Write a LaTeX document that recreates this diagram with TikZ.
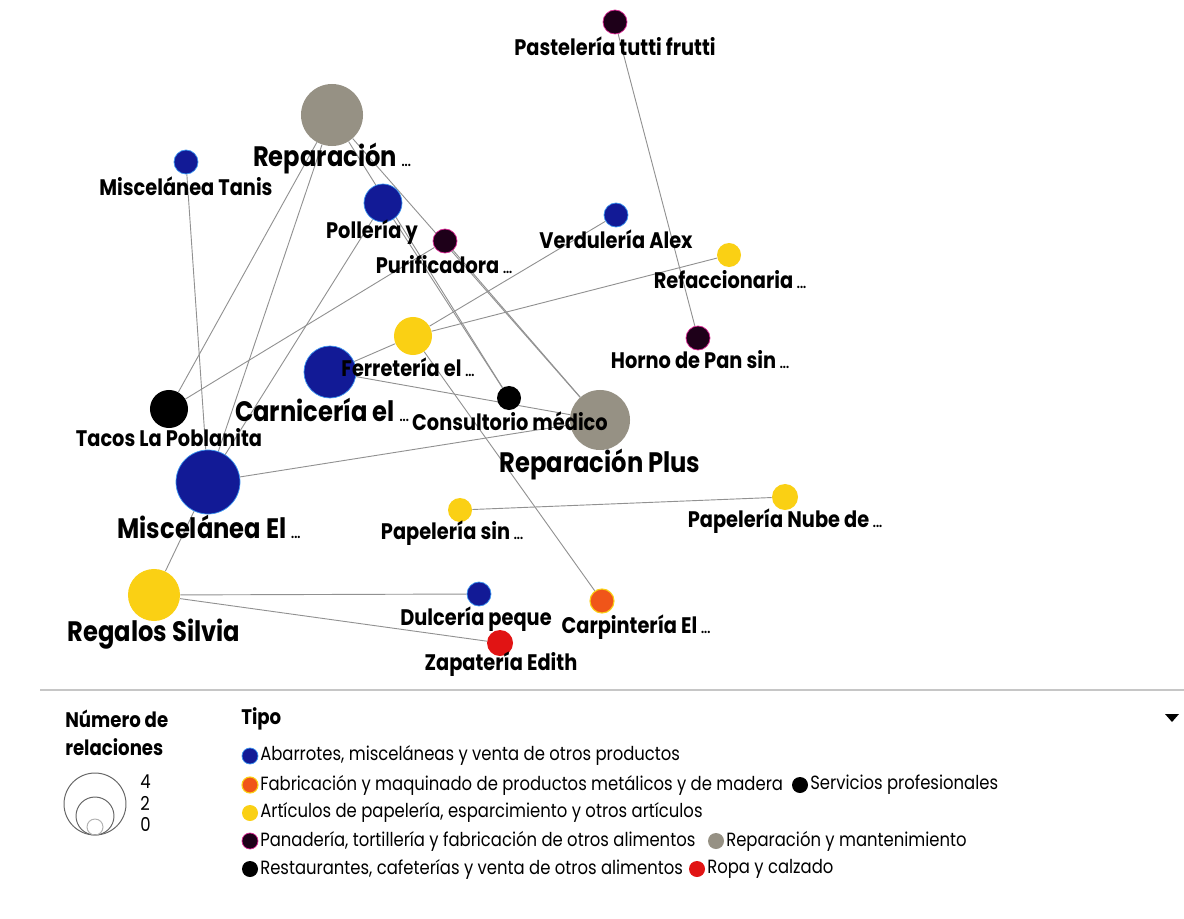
\documentclass[tikz,border=0pt]{standalone}
\usepackage{fontspec}
\setmainfont{Poppins}[FakeStretch=0.86]
\usetikzlibrary{backgrounds}
\definecolor{abablue}{RGB}{18,26,150}
\definecolor{abarim}{RGB}{60,150,240}
\definecolor{repgray}{RGB}{150,145,132}
\definecolor{papyellow}{RGB}{250,208,20}
\definecolor{panpurple}{RGB}{30,0,25}
\definecolor{panrim}{RGB}{220,40,150}
\definecolor{fabred}{RGB}{240,85,25}
\definecolor{ropared}{RGB}{225,20,20}
\definecolor{lnkgray}{RGB}{145,145,145}
\newcommand{\lbldots}{\,{\fontsize{9}{9}\selectfont...}}

\begin{document}
\begin{tikzpicture}[x=0.025cm, y=-0.025cm,
    bub/.style={circle, inner sep=0pt, minimum size=#1*0.05cm},
    aba/.style={bub=#1, fill=abablue, draw=abarim, line width=0.5pt},
    rep/.style={bub=#1, fill=repgray},
    pap/.style={bub=#1, fill=papyellow},
    pan/.style={bub=#1, fill=panpurple, draw=panrim, line width=0.5pt},
    res/.style={bub=#1, fill=black},
    fab/.style={bub=#1, fill=fabred, draw=papyellow, line width=0.8pt},
    rop/.style={bub=#1, fill=ropared},
    lbls/.style={font=\fontsize{16}{18}\selectfont\bfseries, inner sep=0pt},
    lblb/.style={font=\fontsize{20}{22}\selectfont\bfseries, inner sep=0pt},
    lnk/.style={draw=lnkgray, line width=0.65pt},
    leghd/.style={font=\fontsize{15}{16}\selectfont\bfseries, inner sep=0pt, anchor=west},
    legtxt/.style={font=\fontsize{13.6}{15}\selectfont, inner sep=0pt, anchor=west}]

    \useasboundingbox (0,0) rectangle (1184,919);

    % Businesses
    \node[pan=12] (pasteleria) at (615,22) {};
    \node[rep=31] (repA) at (332,115) {};
    \node[aba=12] (tanis) at (186,162) {};
    \node[aba=19] (polleria) at (383,203) {};
    \node[pan=12] (purif) at (445,241) {};
    \node[aba=12] (verdu) at (616,215) {};
    \node[pap=12] (refac) at (729,255) {};
    \node[pan=12] (horno) at (698,338) {};
    \node[pap=19] (ferre) at (413,336) {};
    \node[aba=26] (carni) at (330,372) {};
    \node[res=19] (tacos) at (169,409) {};
    \node[res=12] (consul) at (509,398) {};
    \node[rep=30] (repPlus) at (600,420) {};
    \node[aba=32] (miscEl) at (208,482) {};
    \node[pap=12] (papSin) at (460,510) {};
    \node[pap=13] (papNube) at (785,497) {};
    \node[pap=26] (regalos) at (154,595) {};
    \node[aba=12] (dulce) at (479,594) {};
    \node[fab=12] (carpin) at (602,601) {};
    \node[rop=13] (zapat) at (500,643) {};

    % Relations
    \begin{scope}[on background layer]
        \draw[lnk] (pasteleria) -- (horno);
        \draw[lnk] (tanis) -- (miscEl);
        \draw[lnk] (repA) -- (tacos);
        \draw[lnk] (repA) -- (miscEl);
        \draw[lnk] (repA) -- (consul);
        \draw[lnk] (repA) -- (repPlus);
        \draw[lnk] (polleria) -- (miscEl);
        \draw[lnk] (polleria) -- (consul);
        \draw[lnk] (purif) -- (tacos);
        \draw[lnk] (purif) -- (repPlus);
        \draw[lnk] (verdu) -- (ferre);
        \draw[lnk] (refac) -- (ferre);
        \draw[lnk] (ferre) -- (carni);
        \draw[lnk] (ferre) -- (carpin);
        \draw[lnk] (carni) -- (repPlus);
        \draw[lnk] (miscEl) -- (repPlus);
        \draw[lnk] (papSin) -- (papNube);
        \draw[lnk] (regalos) -- (miscEl);
        \draw[lnk] (regalos) -- (dulce);
        \draw[lnk] (regalos) -- (zapat);
    \end{scope}

    % Labels
    \node[lbls] (pasteleriaL) at (615,46) {Pastelería tutti frutti};
    \node[lblb] (repAL) at (332,159) {Reparación\lbldots};
    \node[lbls] (tanisL) at (186,186) {Miscelánea Tanis};
    \node[lbls] (polleriaL) at (372,232) {Pollería y};
    \node[lbls] (purifL) at (444,265) {Purificadora\lbldots};
    \node[lbls] (verduL) at (616,239) {Verdulería Alex};
    \node[lbls] (refacL) at (730,280) {Refaccionaria\lbldots};
    \node[lbls] (hornoL) at (700,360) {Horno de Pan sin\lbldots};
    \node[lbls] (ferreL) at (408,367) {Ferretería el\lbldots};
    \node[lblb] (carniL) at (322,410) {Carnicería el\lbldots};
    \node[lbls] (tacosL) at (169,438) {Tacos La Poblanita};
    \node[lbls] (consulL) at (510,421) {Consultorio médico};
    \node[lblb] (repPlusL) at (600,465) {Reparación Plus};
    \node[lblb] (miscElL) at (209,527) {Miscelánea El\lbldots};
    \node[lbls] (papSinL) at (452,533) {Papelería sin\lbldots};
    \node[lbls] (papNubeL) at (785,521) {Papelería Nube de\lbldots};
    \node[lblb] (regalosL) at (154,634) {Regalos Silvia};
    \node[lbls] (carpinL) at (636,627) {Carpintería El\lbldots};
    \node[lbls] (dulceL) at (476,619) {Dulcería peque};
    \node[lbls] (zapatL) at (501,664) {Zapatería Edith};

    % Legend separator
    \draw[line width=1.2pt, gray!45] (40,690) -- (1184,690);
    \fill (1165,714) -- (1179,714) -- (1172,722) -- cycle;

    % Size legend
    \node[leghd] (numL) at (65,719) {Número de};
    \node[leghd] (relL) at (65,747) {relaciones};
    \draw[gray!80!black, line width=0.7pt] (95,804) circle[radius=31*0.025cm];
    \draw[gray!80!black, line width=0.7pt] (95,816) circle[radius=19*0.025cm];
    \draw[gray!60, line width=0.7pt] (95,827) circle[radius=8*0.025cm];
    \node[legtxt] (n4) at (140,782) {4};
    \node[legtxt] (n2) at (140,803) {2};
    \node[legtxt] (n0) at (140,824) {0};

    % Type legend
    \node[leghd] (tipoL) at (241,719) {Tipo};
    \node[aba=8] (k1) at (250,756) {};
    \node[legtxt] at (260,756) {Abarrotes, misceláneas y venta de otros productos};
    \node[fab=8] (k2) at (250,785) {};
    \node[legtxt] (k2L) at (260,785) {Fabricación y maquinado de productos metálicos y de madera};
    \node[res=8] (k3) at (800,785) {};
    \node[legtxt] at (810,785) {Servicios profesionales};
    \node[pap=8] (k4) at (250,813) {};
    \node[legtxt] at (260,813) {Artículos de papelería, esparcimiento y otros artículos};
    \node[pan=8] (k5) at (250,841) {};
    \node[legtxt] at (260,841) {Panadería, tortillería y fabricación de otros alimentos};
    \node[rep=8] (k6) at (716,841) {};
    \node[legtxt] at (726,841) {Reparación y mantenimiento};
    \node[res=8] (k7) at (250,869) {};
    \node[legtxt] at (260,869) {Restaurantes, cafeterías y venta de otros alimentos};
    \node[rop=8] (k8) at (697,869) {};
    \node[legtxt] at (707,869) {Ropa y calzado};
\end{tikzpicture}
\end{document}
